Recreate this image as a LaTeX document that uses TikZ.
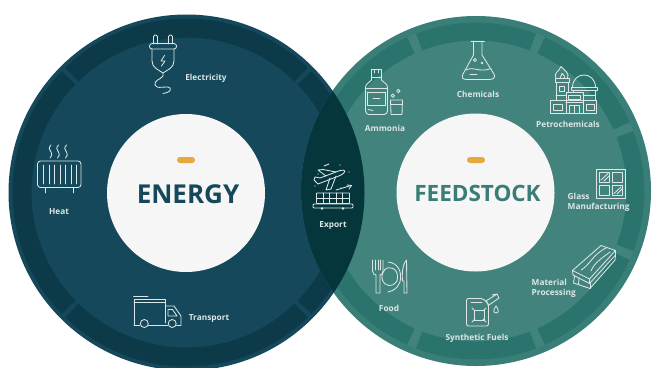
\documentclass[tikz,border=0pt]{standalone}
\usepackage{fontspec}
\setmainfont{Open Sans}
\definecolor{lmain}{HTML}{14485A}
\definecolor{lband}{HTML}{0D3A49}
\definecolor{rmain}{HTML}{42837D}
\definecolor{rrim}{HTML}{397F78}
\definecolor{rband}{HTML}{2B746E}
\definecolor{lens}{HTML}{05363C}
\definecolor{hub}{HTML}{F6F6F6}
\definecolor{pill}{HTML}{E5A93F}
\definecolor{ink}{HTML}{DDE7E6}
\definecolor{ftitle}{HTML}{3A7D77}
\definecolor{etitle}{HTML}{14485A}
\tikzset{
  ic/.style={draw=ink,line width=.85pt,line join=round,line cap=round},
  lab/.style={text=ink,font=\fontsize{8.3}{10.8}\selectfont\bfseries,inner sep=0pt,align=left},
  bige/.style={inner sep=0pt,font=\fontsize{26}{28}\selectfont\bfseries},
  bigf/.style={inner sep=0pt,font=\fontsize{22.5}{28}\selectfont\bfseries},
}
\newcommand{\bandarc}[7]{% cx cy r width colour from to
  \draw[line width=#4pt,#5] plot[domain=#6:#7,samples=40,smooth] ({#1+#3*cos(\x)},{#2+#3*sin(\x)});}
\begin{document}
\begin{tikzpicture}[x=1pt,y=-1pt]
\useasboundingbox (0,0) rectangle (652,367);
\fill[white] (0,0) rectangle (652,367);
\clip (0,0) rectangle (652,367);
% left disc
\fill[lmain] (186.5,192.5) circle[radius=178];
\foreach \a in {45,135,225,315}{
  \bandarc{186.5}{192.5}{164.5}{19}{lband}{\a+0.8}{\a+90-0.8}
}
% right disc
\fill[rrim] (476,191) circle[radius=175];
\fill[rmain] (476,191) circle[radius=168.5];
\foreach \a in {22.5,67.5,112.5,157.5,202.5,247.5,292.5,337.5}{
  \bandarc{476}{191}{159.5}{18}{rband}{\a+1.6}{\a+45-1.6}
}
% lens
\begin{scope}
  \clip (476,191) circle[radius=175];
  \fill[lens] (186.5,192.5) circle[radius=178];
\end{scope}
% hubs
\fill[hub] (186,193) circle[radius=79];
\fill[hub] (475.5,192.5) circle[radius=79];
\fill[pill,rounded corners=3pt] (177,157) rectangle (195,163);
\fill[pill,rounded corners=3pt] (467,157) rectangle (485,163);
\node[bige,text=etitle] (energy) at (188,194.5) {ENERGY};
\node[bigf,text=ftitle] (feed) at (477.5,193.5) {FEEDSTOCK};
% labels
\node[lab] (elec) at (206,78) {Electricity};
\node[lab] (heat) at (59,212) {Heat};
\node[lab] (trans) at (209,319) {Transport};
\node[lab] (exp) at (333,225.5) {Export};
\node[lab] (chem) at (478,94.5) {Chemicals};
\node[lab] (amm) at (385,128.5) {Ammonia};
\node[lab] (petro) at (568,124) {Petrochemicals};
\node[lab,anchor=west] (glass) at (567.5,202.5) {Glass\\[-.6pt]Manufacturing};
\node[lab,anchor=west] (mat) at (531.5,288.5) {Material\\[-.6pt]Processing};
\node[lab] (food) at (389,308.5) {Food};
\node[lab] (syn) at (477,338.5) {Synthetic Fuels};
% plug
\draw[ic,rounded corners=1.5pt] (153.5,44) -- (153.5,35) -- (157.5,35) -- (157.5,44);
\draw[ic,rounded corners=1.5pt] (168.5,44) -- (168.5,35) -- (172.5,35) -- (172.5,44);
\draw[ic,rounded corners=2.5pt] (149.5,43.5) rectangle (176.5,49);
\draw[ic] (152,49) -- (152,61) .. controls (152,68) and (159,70) .. (163,73) .. controls (167,70) and (174,68) .. (174,61) -- (174,49);
\draw[ic] (164.5,55.5) -- (161,61) -- (165,61) -- (161.5,66);
\draw[ic] (163,73) -- (163,76) .. controls (160,80) and (154,80) .. (155,85) .. controls (156,90) and (167,85) .. (170,88) .. controls (172,91) and (167,93) .. (163,93.5);
% heater
\draw[ic,rounded corners=3pt] (37.5,161) rectangle (81,187.5);
\foreach \x in {43.5,49,54.5,60,65.5,71,76.5}{\draw[ic] (\x,165) -- (\x,184);}
\draw[ic] (45.5,187.5) -- (45.5,193);
\draw[ic] (73,187.5) -- (73,193);
\foreach \x in {51,58.5,66.5}{
  \draw[ic] (\x,145) .. controls (\x-3,148) and (\x-1.5,150) .. (\x,152) .. controls (\x+1.5,154) and (\x+1,156) .. (\x-1,158);
}
% truck
\draw[ic] (133.5,296) -- (148,296);
\draw[ic] (134,325.5) -- (134,299) -- (165.5,299) -- (165.5,323);
\draw[ic] (134,302.5) -- (165.5,302.5);
\draw[ic] (134,325.5) -- (140,325.5);
\draw[ic] (148.5,325.5) -- (168,325.5);
\draw[ic] (176.5,325.5) -- (181,325.5) -- (181,316) -- (174,306) -- (165.5,306);
\draw[ic] (168,309.5) -- (172.5,309.5) -- (177,316) -- (168,316) -- cycle;
\draw[ic] (144.3,323.5) circle[radius=4];
\draw[ic] (172.2,323.5) circle[radius=4];
% export
\draw[ic,rounded corners=.4pt] (316.5,193) rectangle (349.5,203.5);
\draw[ic] (316.5,198) -- (349.5,198);
\foreach \x in {323,329.5,336,342.5}{\draw[ic] (\x,193) -- (\x,203.5);}
\draw[ic,rounded corners=1pt] (313,204) rectangle (353,208);
\fill[ink] (322,208.5) circle[radius=1.4] (343,208.5) circle[radius=1.4];
\draw[ic] (314,180) -- (318,184) -- (340,175.5) .. controls (347,172) and (346,169) .. (340,170.5) -- (320,178) -- (315,177) -- cycle;
\draw[ic] (326,176) -- (318,170) -- (323,169.5) -- (336,172);
\draw[ic] (330,178) -- (326,190) -- (331,189) -- (336,176);
\draw[ic] (336,190) -- (351,185.5);
\draw[ic] (347,185) -- (351.5,185.5) -- (349,189);
\fill[ink] (318,174) circle[radius=.6] (315,186) circle[radius=.6] (349,172) circle[radius=.6] (341,188) circle[radius=.6] (340,165) circle[radius=.6];
\draw[ic] (324,166) -- (329,164);
% flask
\draw[ic] (471,41) -- (484.5,41);
\draw[ic] (473.5,41) -- (473.5,55) -- (463,74) .. controls (461,78) and (463,79.5) .. (467,79.5) -- (489,79.5) .. controls (494,79.5) and (495.5,77) .. (494,74) -- (482,55) -- (482,41);
\draw[ic] (466,70) .. controls (473,66) and (480,73) .. (491,68.5);
\draw[ic] (475,60) circle[radius=1.6];
\draw[ic] (482,63) circle[radius=.8];
\draw[ic] (470,74) -- (477,74);
% ammonia bottle
\draw[ic] (371.5,69.5) rectangle (381.5,77.5);
\draw[ic] (374.5,70) -- (374.5,73) (378.5,70) -- (378.5,73);
\draw[ic] (371.5,77.5) -- (371.5,80) -- (367,84) .. controls (366,85) and (365.5,86) .. (365.5,88) -- (365.5,111) .. controls (365.5,113) and (367,114.5) .. (369,114.5) -- (384,114.5) .. controls (386,114.5) and (387.5,113) .. (387.5,111) -- (387.5,88) .. controls (387.5,86) and (387,85) .. (386,84) -- (381.5,80) -- (381.5,77.5);
\draw[ic] (365.5,88.5) -- (387.5,88.5) (367.5,92) -- (385.5,92);
\draw[ic] (367.5,92) -- (367.5,105) -- (385.5,105) -- (385.5,92);
\draw[ic] (373,98) -- (380,98);
\draw[ic] (368,109.5) -- (373,110.5);
\draw[ic] (390.5,100) -- (402.5,100) -- (402,114.5) -- (391,114.5) -- cycle;
\draw[ic] (391,104) -- (402,104);
\draw[ic] (392.8,95.7) circle[radius=1.7];
\draw[ic] (398.3,91) circle[radius=1.7];
% petrochemicals
\draw[ic] (550.5,100.5) -- (596.5,100.5) (550.5,113) -- (596.5,113);
\draw[ic] (550.5,100.5) -- (550.5,113) (596.5,100.5) -- (596.5,113);
\draw[ic] (556,100.5) -- (556,82) -- (568,82) -- (568,92);
\draw[ic] (555,78.5) rectangle (569,82);
\draw[ic] (556,78.5) .. controls (553,73) and (559,72) .. (561,66.5) .. controls (564,70) and (570,73) .. (567.5,78.5);
\draw[ic] (560,78.5) .. controls (560,76) and (562,75.5) .. (562,73.5) .. controls (564,75) and (565,76) .. (564.5,78.5);
\draw[ic] (559.5,86) rectangle (564.5,91);
\draw[ic] (556,95.5) -- (566,95.5);
\draw[ic] (572.5,87) .. controls (573,71) and (595,71) .. (595.5,87);
\draw[ic] (571,87) rectangle (597,90.5);
\draw[ic] (573,90.5) -- (573,92);
\draw[ic] (595.5,90.5) -- (595.5,100.5);
\draw[ic] (583,95) -- (595.5,95);
\draw[ic] (566,92) rectangle (583,113);
\draw[ic] (568.5,95.5) rectangle (580.5,99);
\draw[ic] (566,102.5) -- (583,102.5);
\draw[ic] (569.5,113) -- (569.5,105.5) -- (579.5,105.5) -- (579.5,113) (574.5,105.5) -- (574.5,113);
\draw[ic] (553.5,104) rectangle (562.5,110);
\draw[ic] (586,104) rectangle (594,110);
% glass
\draw[ic] (596.5,169) rectangle (625.5,198);
\draw[ic] (599.5,172) rectangle (609.5,182);
\draw[ic] (612.5,172) rectangle (622.5,182);
\draw[ic] (599.5,185) rectangle (609.5,195);
\draw[ic] (612.5,185) rectangle (622.5,195);
\draw[ic] (601,180) -- (608,173.5) (604,181) -- (609,176);
\draw[ic] (614,193.5) -- (621,187) (617,194) -- (622,189);
% planks
\draw[ic] (572.5,270.5) -- (601,245.5) -- (615.5,250.5) -- (589.5,279) -- cycle;
\draw[ic] (572.5,270.5) -- (573,275) -- (589.5,283.5) -- (615.5,255) -- (615.5,250.5);
\draw[ic] (589.5,279) -- (589.5,283.5);
\draw[ic] (581,270) .. controls (590,265) and (592,255) .. (606,248);
\draw[ic] (591,271) .. controls (594,263) and (602,258) .. (610,252);
\draw[ic] (574.5,276) -- (573.5,283) -- (590,288.5) -- (615,260) -- (615.5,255);
\draw[ic] (590,283.5) -- (590,288.5);
\draw[ic] (579,278) -- (578.5,284.5);
% food
\draw[ic] (372.5,260) -- (372.5,271) .. controls (372.5,274) and (375,275) .. (376,275) -- (376,293) -- (380,293) -- (380,275) .. controls (382,275) and (383,273) .. (383,271) -- (383,260);
\draw[ic] (375,260) -- (375,270) (378,260) -- (378,270) (380.5,260) -- (380.5,270);
\draw[ic] (388,262) .. controls (399,263) and (401,273) .. (400.5,277) .. controls (401,285) and (395,291) .. (388,292);
\draw[ic] (384,270) .. controls (388,265) and (398,268) .. (397.5,277) .. controls (398,285) and (389,288) .. (384.5,283.5);
\draw[ic] (384.5,270) .. controls (381,274) and (381,280) .. (384.5,283.5);
\draw[ic] (406.5,260) .. controls (402,265) and (402,275) .. (402.5,281) -- (404,281) -- (404,293) -- (407,293) -- cycle;
% can
\draw[ic,rounded corners=2pt] (466.5,298.5) -- (483,298.5) -- (488.5,304) -- (488.5,326) -- (466.5,326) -- cycle;
\draw[ic] (471,302) -- (482,302);
\draw[ic] (474,310) rectangle (484,320);
\draw[ic] (472,308) -- (475,311) (486,308) -- (483,311) (472,322) -- (475,319) (486,322) -- (483,319);
\draw[ic] (486,301) -- (497,294) -- (492,295) (486,301) -- (489,305) -- (499,298) -- (497,294);
\draw[ic] (496,306) .. controls (493,310) and (493,313) .. (496,313) .. controls (499,313) and (499,310) .. (496,306);
\end{tikzpicture}
\end{document}
